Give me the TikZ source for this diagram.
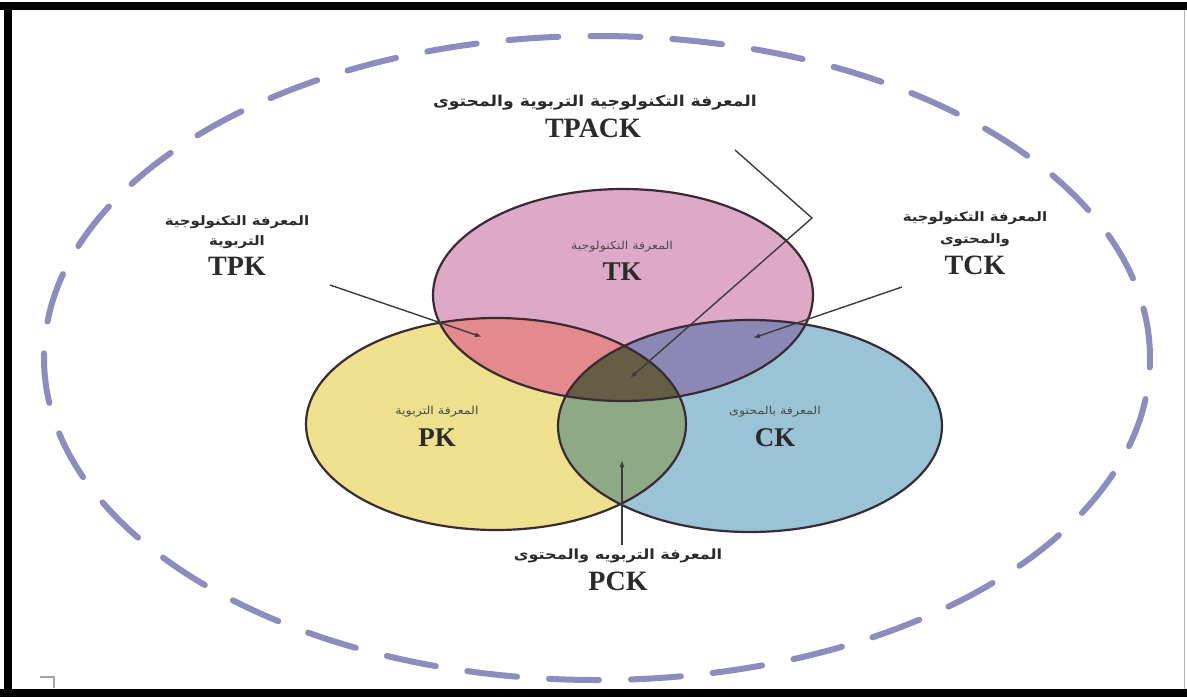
\documentclass[tikz,border=0pt]{standalone}
\usepackage{fontspec}
\setmainfont{Liberation Serif}
\newfontfamily\arabicfont[Script=Arabic,FakeStretch=1.15]{DejaVu Sans}
\TeXXeTstate=1
\usetikzlibrary{arrows.meta}
\definecolor{tkpink}{HTML}{DDA9C7}
\definecolor{pkyellow}{HTML}{EEE08C}
\definecolor{ckblue}{HTML}{98C4D6}
\definecolor{tpkred}{HTML}{E58A8C}
\definecolor{tckpurple}{HTML}{8B88B6}
\definecolor{pckgreen}{HTML}{8DA985}
\definecolor{tpackolive}{HTML}{645E44}
\definecolor{vennline}{HTML}{3A2A33}
\definecolor{dashcol}{HTML}{8C8CBE}
\definecolor{txtcol}{HTML}{2A2A2A}
\definecolor{arrowcol}{HTML}{3C3C3C}
\begin{document}
\begin{tikzpicture}[x=1pt,y=-1pt,
  arbig/.style={font=\arabicfont\bfseries\fontsize{15}{17}\selectfont, text=txtcol, inner sep=0pt},
  ar/.style={font=\arabicfont\bfseries\fontsize{13}{15}\selectfont, text=txtcol, inner sep=0pt},
  armid/.style={font=\arabicfont\bfseries\fontsize{14}{16}\selectfont, text=txtcol, inner sep=0pt},
  arsm/.style={font=\arabicfont\fontsize{11}{13}\selectfont, text=txtcol!85, inner sep=0pt},
  lat/.style={font=\bfseries\fontsize{28}{30}\selectfont, text=txtcol, inner sep=0pt},
  latsm/.style={font=\bfseries\fontsize{27}{30}\selectfont, text=txtcol, inner sep=0pt},
  ptr/.style={draw=arrowcol, line width=1.4pt, -{Latex[length=7pt,width=5pt]}},
  vennedge/.style={draw=vennline, line width=2.2pt},
  dashring/.style={draw=dashcol, line width=6pt, line cap=round, dash pattern=on 50pt off 32pt}
]
\fill[white] (0,0) rectangle (1187,697);
\useasboundingbox (0,0) rectangle (1187,697);

% outer dashed ring
\draw[dashring] (597,358) ellipse [x radius=553pt, y radius=322pt];

% Venn circles
\def\tkcirc{(623,295) ellipse [x radius=190pt, y radius=106pt]}
\def\pkcirc{(496,424) ellipse [x radius=190pt, y radius=106pt]}
\def\ckcirc{(750,426) ellipse [x radius=192pt, y radius=106pt]}
\fill[pkyellow] \pkcirc;
\fill[ckblue] \ckcirc;
\fill[tkpink] \tkcirc;
\begin{scope}\clip \tkcirc; \fill[tpkred] \pkcirc; \end{scope}
\begin{scope}\clip \tkcirc; \fill[tckpurple] \ckcirc; \end{scope}
\begin{scope}\clip \pkcirc; \fill[pckgreen] \ckcirc; \end{scope}
\begin{scope}\clip \tkcirc; \clip \pkcirc; \fill[tpackolive] \ckcirc; \end{scope}
\draw[vennedge] \pkcirc;
\draw[vennedge] \ckcirc;
\draw[vennedge] \tkcirc;

% labels
\node[arbig] (tpackar) at (595,103) {\beginR المعرفة التكنولوجية التربوية والمحتوى\endR};
\node[lat] (tpack) at (593,128) {TPACK};

\node[ar] (tpkar1) at (237,222) {\beginR المعرفة التكنولوجية\endR};
\node[ar] (tpkar2) at (237,242) {\beginR التربوية\endR};
\node[lat] (tpk) at (237,266) {TPK};

\node[ar] (tckar1) at (975,218) {\beginR المعرفة التكنولوجية\endR};
\node[ar] (tckar2) at (975,240) {\beginR والمحتوى\endR};
\node[lat] (tck) at (975,265) {TCK};

\node[arsm] (tkar) at (622,247) {\beginR المعرفة التكنولوجية\endR};
\node[latsm] (tk) at (622,272) {TK};

\node[arsm] (pkar) at (437,412) {\beginR المعرفة التربوية\endR};
\node[latsm] (pk) at (437,438) {PK};

\node[arsm] (ckar) at (775,412) {\beginR المعرفة بالمحتوى\endR};
\node[latsm] (ck) at (775,438) {CK};

\node[armid] (pckar) at (618,556) {\beginR المعرفة التربويه والمحتوى\endR};
\node[lat] (pck) at (618,581) {PCK};

% pointer arrows
\coordinate (tpkS) at (330,285);
\coordinate (tpkE) at (482,337);
\coordinate (tckS) at (902,287);
\coordinate (tckE) at (753,338);
\coordinate (tpackS) at (735,150);
\coordinate (tpackB) at (812,218);
\coordinate (tpackE) at (630,378);
\coordinate (pckS) at (622,545);
\coordinate (pckE) at (622,460);
\draw[ptr] (tpkS) -- (tpkE);
\draw[ptr] (tckS) -- (tckE);
\draw[ptr] (tpackS) -- (tpackB) -- (tpackE);
\draw[ptr] (pckS) -- (pckE);

% frame
\fill[black] (0,2) rectangle (1187,10);
\fill[black] (4,2) rectangle (12,697);
\fill[black] (0,689) rectangle (1187,697);
\draw[gray!60, line width=1pt] (1184,10) -- (1184,689);
\draw[gray!70, line width=1.2pt] (40,677) -- (54,677) -- (54,688);
\end{tikzpicture}
\end{document}
